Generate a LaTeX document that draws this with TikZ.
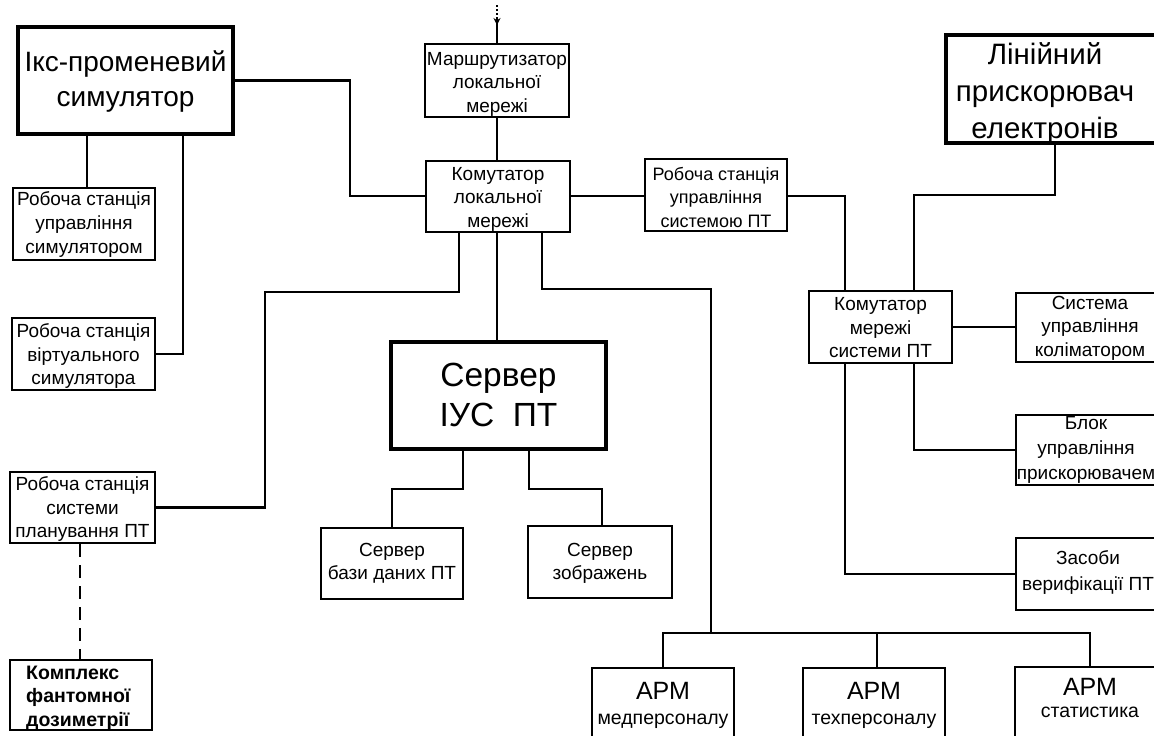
\documentclass[tikz,border=0pt]{standalone}
\usepackage{fontspec}
\setmainfont{Liberation Sans}
\usetikzlibrary{arrows.meta,calc}
\newcommand\szS{\fontsize{19}{23.5}\selectfont}
\begin{document}
\begin{tikzpicture}[x=1pt,y=-1pt,
  bx/.style={draw, line width=2.6pt, inner sep=0pt, rectangle},
  bxt/.style={draw, line width=4.5pt, inner sep=0pt, rectangle},
  conn/.style={line width=2.6pt},
  txt/.style={align=center, inner sep=0pt, font=\szS}]
\useasboundingbox (0,0) rectangle (1154,736);
\clip (0,0) rectangle (1154,736);
\fill[white] (0,0) rectangle (1154,736);

% boxes
\node[bxt, minimum width=215, minimum height=107] (sim) at (125.5,80.5) {};
\node[bx, minimum width=144, minimum height=73] (router) at (497,80.5) {};
\node[bx, minimum width=144, minimum height=71] (sw) at (498,196.5) {};
\node[bx, minimum width=142, minimum height=72] (wspt) at (716,195) {};
\node[bxt, minimum width=214, minimum height=108] (lin) at (1053,89) {};
\node[bx, minimum width=142, minimum height=72] (wssim) at (84,224) {};
\node[bx, minimum width=143, minimum height=72] (virt) at (83.5,354) {};
\node[bx, minimum width=145, minimum height=71] (plan) at (82.5,507.5) {};
\node[bx, minimum width=142, minimum height=70] (kompl) at (81,695) {};
\node[bxt, minimum width=215, minimum height=107] (server) at (498.5,395.5) {};
\node[bx, minimum width=142, minimum height=71] (db) at (392,563.5) {};
\node[bx, minimum width=144, minimum height=72] (img) at (600,562) {};
\node[bx, minimum width=143, minimum height=72] (swpt) at (880.5,327) {};
\node[bx, minimum width=148, minimum height=69] (coll) at (1090,327.5) {};
\node[bx, minimum width=148, minimum height=70] (blok) at (1090,450) {};
\node[bx, minimum width=148, minimum height=72] (zas) at (1090,574) {};
\node[bx, minimum width=142, minimum height=72] (med) at (663,704) {};
\node[bx, minimum width=142, minimum height=72] (tech) at (874,704) {};
\node[bx, minimum width=150, minimum height=73] (stat) at (1090,703.5) {};

% texts
\node[txt, font=\fontsize{28}{35}\selectfont] (sim-t) at (125.5,82) {Ікс-променевий\\симулятор};
\node[txt] (router-t) at (497,84) {Маршрутизатор\\локальної\\мережі};
\node[txt] (sw-t) at (498,199) {Комутатор\\локальної\\мережі};
\node[txt, font=\fontsize{18}{23.5}\selectfont] (wspt-t) at (716,197) {Робоча станція\\управління\\системою ПТ};
\node[txt, font=\fontsize{29.5}{37}\selectfont] (lin-t) at (1045,94) {Лінійний\\прискорювач\\електронів};
\node[txt, font=\fontsize{19}{24}\selectfont] (wssim-t) at (84,225) {Робоча станція\\управління\\симулятором};
\node[txt] (virt-t) at (83.5,356) {Робоча станція\\віртуального\\симулятора};
\node[txt] (plan-t) at (82.5,509) {Робоча станція\\системи\\планування ПТ};
\node[txt, align=left, anchor=west, font=\fontsize{19.5}{23.5}\selectfont\bfseries] (kompl-t) at (26,698) {Комплекс\\фантомної\\дозиметрії};
\node[txt, font=\fontsize{33.5}{40}\selectfont] (server-t) at (498.5,395) {Сервер\\ІУС\ \ ПТ};
\node[txt, font=\fontsize{19}{23}\selectfont] (db-t) at (392,563) {Сервер\\бази даних ПТ};
\node[txt, font=\fontsize{19}{23}\selectfont] (img-t) at (600,563) {Сервер\\зображень};
\node[txt] (swpt-t) at (880.5,328) {Комутатор\\мережі\\системи ПТ};
\node[txt] (coll-t) at (1090,328) {Система\\управління\\коліматором};
\node[txt, font=\fontsize{19}{25}\selectfont] (blok-t) at (1086,450) {Блок\\управління\\прискорювачем};
\node[txt, font=\fontsize{19}{26}\selectfont] (zas-t) at (1088,572) {Засоби\\верифікації ПТ};
\node[txt, font=\fontsize{25}{25}\selectfont] (med-t) at (663,705) {АРМ\\{\fontsize{19.5}{25}\selectfont медперсоналу}};
\node[txt, font=\fontsize{25}{25}\selectfont] (tech-t) at (874,705) {АРМ\\{\fontsize{19.5}{25}\selectfont техперсоналу}};
\node[txt, font=\fontsize{25}{22}\selectfont] (stat-t) at (1090,698) {АРМ\\{\fontsize{19.5}{22}\selectfont статистика}};

% incoming external link
\coordinate (ext) at (497,5);
\coordinate (ext2) at (497,17);
\draw[line width=2pt, dash pattern=on 2pt off 2pt] (ext) -- (ext2);
\draw[conn] (ext2) -- (router.north);
\draw[conn, -{Stealth[length=7pt,width=7pt]}] (ext2) -- (497,25);

% connectors
\draw[conn] (sim.east) -| (350,196) -- (sw.west |- 0,196);
\draw[conn] (router.south) -- (router.south |- sw.north);
\draw[conn] (sw.east |- 0,196) -- (wspt.west |- 0,196);
\draw[conn] (wspt.east |- 0,196) -| (845,0 |- swpt.north);
\draw[conn] (1055,0 |- lin.south) |- (914,195) -- (914,0 |- swpt.north);
\draw[conn] (swpt.east) -- (swpt.east -| coll.west);
\draw[conn] (914,0 |- swpt.south) |- (blok.west);
\draw[conn] (845,0 |- swpt.south) |- (zas.west);
\draw[conn] (87,0 |- sim.south) -- (87,0 |- wssim.north);
\draw[conn] (183,0 |- sim.south) |- (virt.east);
\draw[conn] (459,0 |- sw.south) |- (265,292) |- (plan.east);
\draw[conn, dash pattern=on 13pt off 8pt] (80,0 |- plan.south) -- (80,0 |- kompl.north);
\draw[conn] (497,0 |- sw.south) -- (497,0 |- server.north);
\draw[conn] (542,0 |- sw.south) |- (711,289) -- (711,633);
\draw[conn] (med.north) |- (1090,633) -- (stat.north);
\draw[conn] (877,633) -- (877,0 |- tech.north);
\draw[conn] (463,0 |- server.south) |- (392,489) -- (db.north);
\draw[conn] (529,0 |- server.south) |- (602,489) -- (602,0 |- img.north);
\end{tikzpicture}
\end{document}
